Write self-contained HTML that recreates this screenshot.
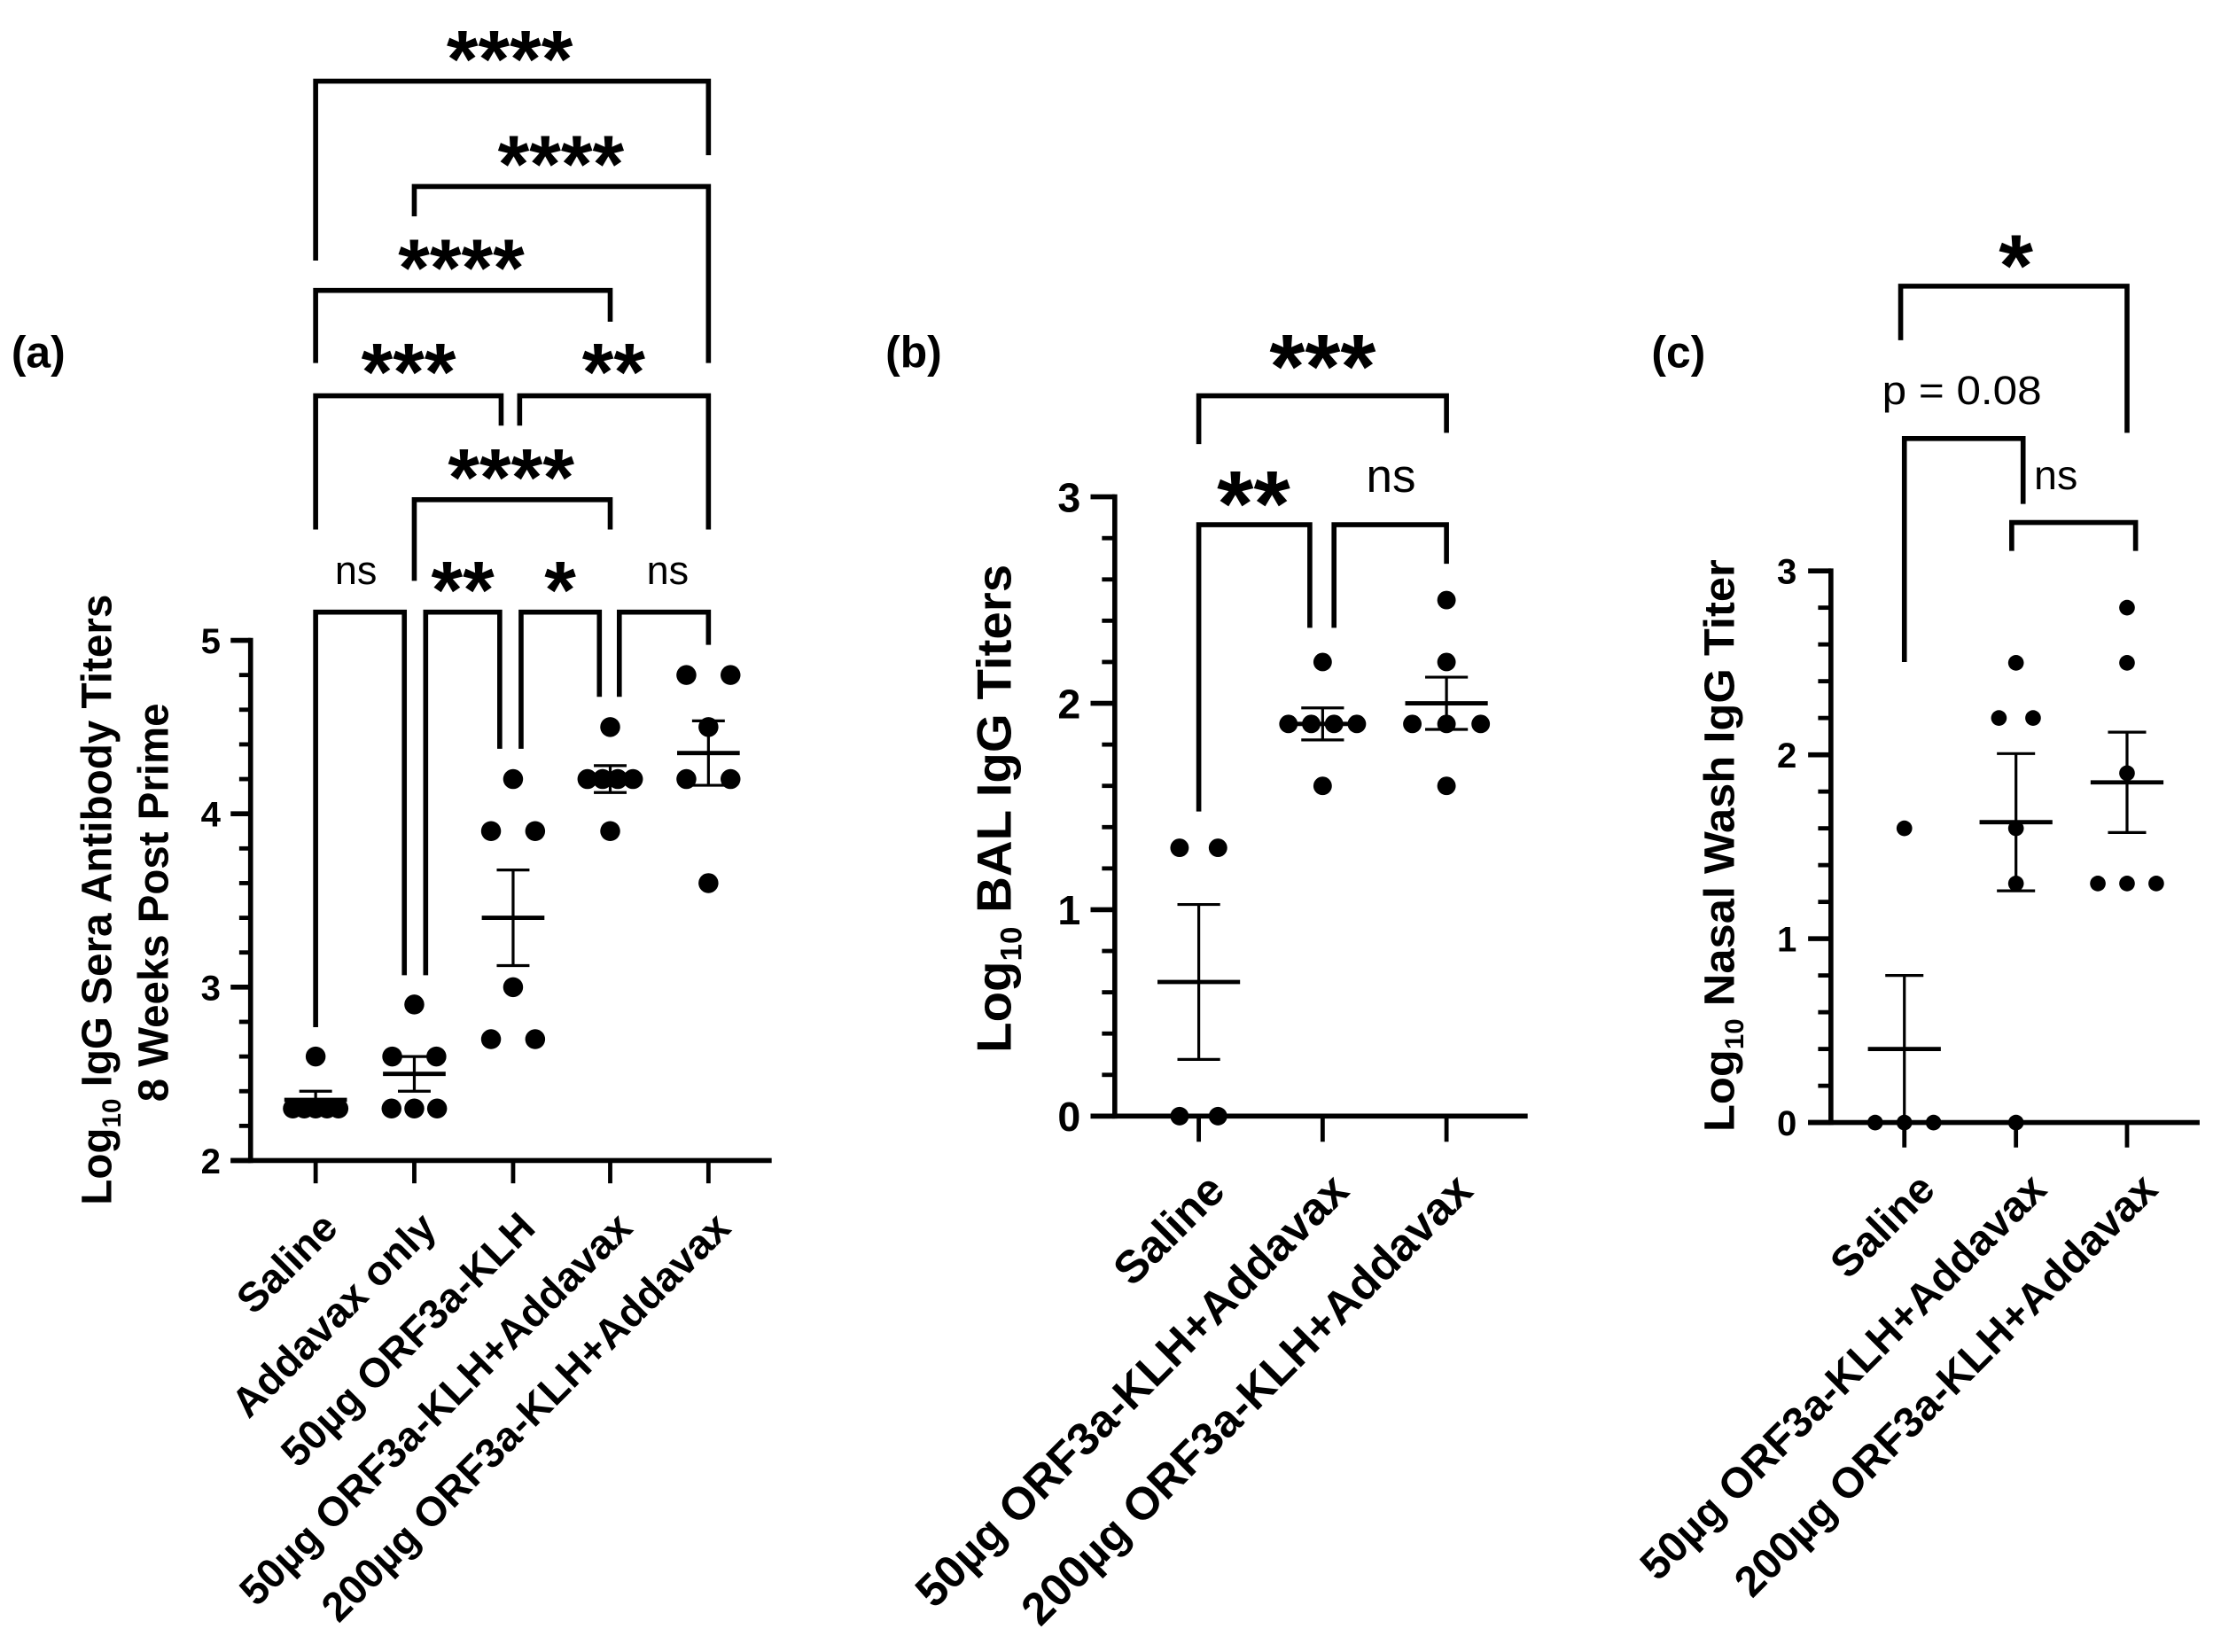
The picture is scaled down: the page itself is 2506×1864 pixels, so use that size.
<!DOCTYPE html>
<html><head><meta charset="utf-8"><style>
html,body{margin:0;padding:0;background:#fff;}
svg{display:block;}
text{font-family:"Liberation Sans",Arial,sans-serif;fill:#000;}
</style></head><body>
<svg id="fig" xmlns="http://www.w3.org/2000/svg" width="2506" height="1864" viewBox="0 0 1560 1160.4" preserveAspectRatio="none"></svg>
<script>
// ---- Panel (a) data ----
const aCategories = ["Saline","Addavax only","50µg ORF3a-KLH","50µg ORF3a-KLH+Addavax","200µg ORF3a-KLH+Addavax"];
const aSaline = [2.6,2.3,2.3,2.3,2.3,2.3];
const aAddavax = [2.9,2.6,2.6,2.3,2.3,2.3];
const aKLH50 = [4.2,3.9,3.9,3.0,2.7,2.7];
const aKLH50Add = [4.5,4.2,4.2,4.2,4.2,3.9];
const aKLH200Add = [4.8,4.8,4.5,4.2,4.2,3.6];
const aTicks = [2,3,4,5];
// ---- Panel (b) data ----
const bCategories = ["Saline","50µg ORF3a-KLH+Addavax","200µg ORF3a-KLH+Addavax"];
const bSaline = [1.3,1.3,0,0];
const bKLH50Add = [2.2,1.9,1.9,1.9,1.9,1.6];
const bKLH200Add = [2.5,2.2,1.9,1.9,1.9,1.6];
const bTicks = [0,1,2,3];
// ---- Panel (c) data ----
const cCategories = ["Saline","50µg ORF3a-KLH+Addavax","200µg ORF3a-KLH+Addavax"];
const cSaline = [1.6,0,0,0];
const cKLH50Add = [2.5,2.2,2.2,1.6,1.3,0];
const cKLH200Add = [2.8,2.5,1.9,1.3,1.3,1.3];
const cTicks = [0,1,2,3];

const svg = document.getElementById('fig');
const NS = 'http://www.w3.org/2000/svg';
function mk(tag, attrs, parent){
  const e = document.createElementNS(NS, tag);
  for (const k in attrs) e.setAttribute(k, attrs[k]);
  (parent||svg).appendChild(e);
  return e;
}
function line(x1,y1,x2,y2,w,name,parent){
  const e = mk('line',{x1:x1,y1:y1,x2:x2,y2:y2,stroke:'#000','stroke-width':w,'stroke-linecap':'butt'},parent);
  
  
  return e;
}
function txt(x,y,s,size,weight,anchor,name,parent,extra){
  const e = mk('text',{x:x,y:y,'font-size':size,'font-weight':weight,'text-anchor':anchor},parent);
  if (extra) for (const k in extra) e.setAttribute(k, extra[k]);
  e.textContent = s;
  
  
  return e;
}
function bracket(x1,x2,top,l1,l2,name,parent){
  const p = mk('path',{d:`M${x1},${l1} V${top} H${x2} V${l2}`,fill:'none',stroke:'#000','stroke-width':3.5,'stroke-linejoin':'miter'},parent);
  
  
}
function stars(cx,cy,s,size,name,parent){
  return txt(cx, cy+size*0.53, s, size, 'bold', 'middle', name, parent);
}
function nsLabel(cx,cy,s,size,name,parent){
  return txt(cx, cy+size*0.26, s, size, 'normal', 'middle', name, parent);
}

function drawPanel(cfg){
  const g = mk('g',{});
  
  
  const y = v => cfg.y0 + (cfg.vmax - v) * cfg.ppu;
  line(cfg.ax, y(cfg.vmin)+1.75, cfg.ax, y(cfg.vmax)-1.75, 3.5, 'y-axis-line', g);
  line(cfg.ax - cfg.majLen, y(cfg.vmin), cfg.xEnd, y(cfg.vmin), 3.5, 'x-axis-line', g);
  for (let v = cfg.vmin; v <= cfg.vmax + 1e-9; v += cfg.minorStep){
    const isMajor = Math.abs(v - Math.round(v)) < 1e-6;
    line(cfg.ax - (isMajor ? cfg.majLen : cfg.minLen), y(v), cfg.ax, y(v), isMajor?3.5:3, isMajor?'y-major-tick':'y-minor-tick', g);
  }
  cfg.ticks.forEach(t => {
    txt(cfg.tickRight, y(t) + cfg.tickSize*0.36, String(t), cfg.tickSize, 'bold', 'end', 'y-tick-label', g);
  });
  cfg.series.forEach((vals, i) => {
    const gx = cfg.gx[i];
    line(gx, y(cfg.vmin), gx, y(cfg.vmin) + cfg.xTickLen, 3, 'x-tick', g);
    const counts = {};
    vals.forEach(v => { counts[v] = (counts[v]||0) + 1; });
    const seen = {};
    vals.forEach(v => {
      const n = counts[v];
      const k = seen[v] = (seen[v]===undefined ? 0 : seen[v]+1);
      const sp = n === 2 ? cfg.sp2 : cfg.spN/(n-1);
      const dx = n === 1 ? 0 : (k - (n-1)/2) * sp;
      const c = mk('circle',{cx: gx + dx, cy: y(v), r: cfg.r, fill:'#000'}, g);
      
      
    });
    const n = vals.length;
    const mean = vals.reduce((a,b)=>a+b,0)/n;
    const sd = Math.sqrt(vals.reduce((a,b)=>a+(b-mean)*(b-mean),0)/(n-1));
    const sem = sd/Math.sqrt(n);
    const hi = mean + sem, lo = Math.max(cfg.vmin, mean - sem);
    line(gx, y(hi), gx, y(lo), 2, 'sem-bar', g);
    line(gx - cfg.capW, y(hi), gx + cfg.capW, y(hi), 2, 'sem-cap', g);
    if (mean - sem > cfg.vmin) line(gx - cfg.capW, y(lo), gx + cfg.capW, y(lo), 2, 'sem-cap', g);
    line(gx - cfg.meanW, y(mean), gx + cfg.meanW, y(mean), 3, 'mean-line', g);
    const lx = gx + cfg.lblDx, ly = cfg.lblY;
    txt(lx, ly, cfg.cats[i], cfg.lblSize, 'bold', 'end', 'x-tick-label', g, {transform:`rotate(-45 ${lx} ${ly})`});
  });
  return {g, y};
}

const A = drawPanel({name:'panel-a', ax:176, y0:449.8, vmax:5, vmin:2, ppu:121.8, xEnd:542, majLen:14, minLen:8, minorStep:0.2,
  ticks:aTicks, tickRight:155, tickSize:25, gx:[221.7,291,360.4,428.6,497.6], xTickLen:16,
  series:[aSaline,aAddavax,aKLH50,aKLH50Add,aKLH200Add], cats:aCategories, r:7, sp2:31, spN:32,
  capW:11.5, meanW:22, lblDx:17, lblY:864, lblSize:29});
const B = drawPanel({name:'panel-b', ax:783, y0:349, vmax:3, vmin:0, ppu:145, xEnd:1073, majLen:17, minLen:9, minorStep:0.2,
  ticks:bTicks, tickRight:759, tickSize:29, gx:[842,929,1016], xTickLen:18,
  series:[bSaline,bKLH50Add,bKLH200Add], cats:bCategories, r:6.5, sp2:27, spN:48,
  capW:15, meanW:29, lblDx:20, lblY:838, lblSize:32});
const C = drawPanel({name:'panel-c', ax:1286, y0:401, vmax:3, vmin:0, ppu:129.17, xEnd:1545, majLen:16, minLen:9, minorStep:0.2,
  ticks:cTicks, tickRight:1262, tickSize:25, gx:[1337.6,1416,1494], xTickLen:17.5,
  series:[cSaline,cKLH50Add,cKLH200Add], cats:cCategories, r:5.5, sp2:24, spN:41,
  capW:13.4, meanW:25.6, lblDx:23, lblY:837, lblSize:30});

txt(8, 258, '(a)', 31, 'bold', 'start', 'panel-label-a');
txt(622, 258, '(b)', 31, 'bold', 'start', 'panel-label-b');
txt(1160, 258, '(c)', 31, 'bold', 'start', 'panel-label-c');

function yTitle(x, cy, parts, size, len, name){
  const t = mk('text',{x:0,y:0,'font-size':size,'font-weight':'bold','text-anchor':'middle',
    transform:`translate(${x} ${cy}) rotate(-90)`, textLength:len, lengthAdjust:'spacingAndGlyphs'});
  
  
  parts.forEach(p => {
    const s = mk('tspan', p.sub ? {'font-size':size*0.62, dy:size*0.22} : (p.after ? {dy:-size*0.22} : {}), t);
    s.textContent = p.t;
  });
}
yTitle(78, 632, [{t:'Log'},{t:'10',sub:true},{t:' IgG Sera Antibody Titers',after:true}], 30, 429, 'y-axis-title-a');
yTitle(118, 634, [{t:'8 Weeks Post Prime'}], 30, 280, 'y-axis-title-a-line2');
yTitle(710, 568, [{t:'Log'},{t:'10',sub:true},{t:' BAL IgG Titers',after:true}], 34, 343, 'y-axis-title-b');
yTitle(1218, 594, [{t:'Log'},{t:'10',sub:true},{t:' Nasal Wash IgG Titer',after:true}], 30, 402, 'y-axis-title-c');

bracket(221.7,497.6,57,183,109,'bracket-saline-vs-200');
stars(358,31,'****',57,'sig-saline-vs-200');
bracket(291,497.6,131,152,255,'bracket-addavax-vs-200');
stars(394,105,'****',57,'sig-addavax-vs-200');
bracket(221.7,428.6,204,255,226,'bracket-saline-vs-50add');
stars(324,177.7,'****',57,'sig-saline-vs-50add');
bracket(221.7,352,278,372,299,'bracket-saline-vs-klh');
stars(287,251,'***',57,'sig-saline-vs-klh');
bracket(365,497.6,278,299,372,'bracket-klh-vs-200');
stars(431,251,'**',57,'sig-klh-vs-200');
bracket(291,428.6,351,408,372,'bracket-addavax-vs-50add');
stars(359,325,'****',57,'sig-addavax-vs-50add');
bracket(221.7,284,430,721.5,685,'bracket-saline-vs-addavax');
nsLabel(250,403,'ns',28,'sig-saline-vs-addavax');
bracket(299,351,430,685,526,'bracket-addavax-vs-klh');
stars(325,404,'**',57,'sig-addavax-vs-klh');
bracket(366,421,430,526,489.5,'bracket-klh-vs-50add');
stars(393.5,404,'*',57,'sig-klh-vs-50add');
bracket(435,497.6,430,489.5,453,'bracket-50add-vs-200');
nsLabel(469,403,'ns',28,'sig-50add-vs-200');

bracket(842,1016,278,312,304,'bracket-b-saline-vs-200');
stars(929,245.7,'***',64,'sig-b-saline-vs-200');
bracket(842,920,368.6,570,441,'bracket-b-saline-vs-50');
stars(880.5,341.5,'**',66,'sig-b-saline-vs-50');
bracket(937,1016,368.6,441,396,'bracket-b-50-vs-200');
nsLabel(977,337,'ns',33,'sig-b-50-vs-200');

bracket(1335,1494,201,239,304,'bracket-c-saline-vs-200');
stars(1416,175,'*',62,'sig-c-saline-vs-200');
bracket(1337.6,1421,308,465,354,'bracket-c-saline-vs-50');
txt(1378,284,'p = 0.08',28,'normal','middle','sig-c-saline-vs-50',null,{textLength:112,lengthAdjust:'spacingAndGlyphs'});
bracket(1413,1500,367,387,387,'bracket-c-50-vs-200');
nsLabel(1444,336,'ns',29,'sig-c-50-vs-200');
</script>
</body></html>
